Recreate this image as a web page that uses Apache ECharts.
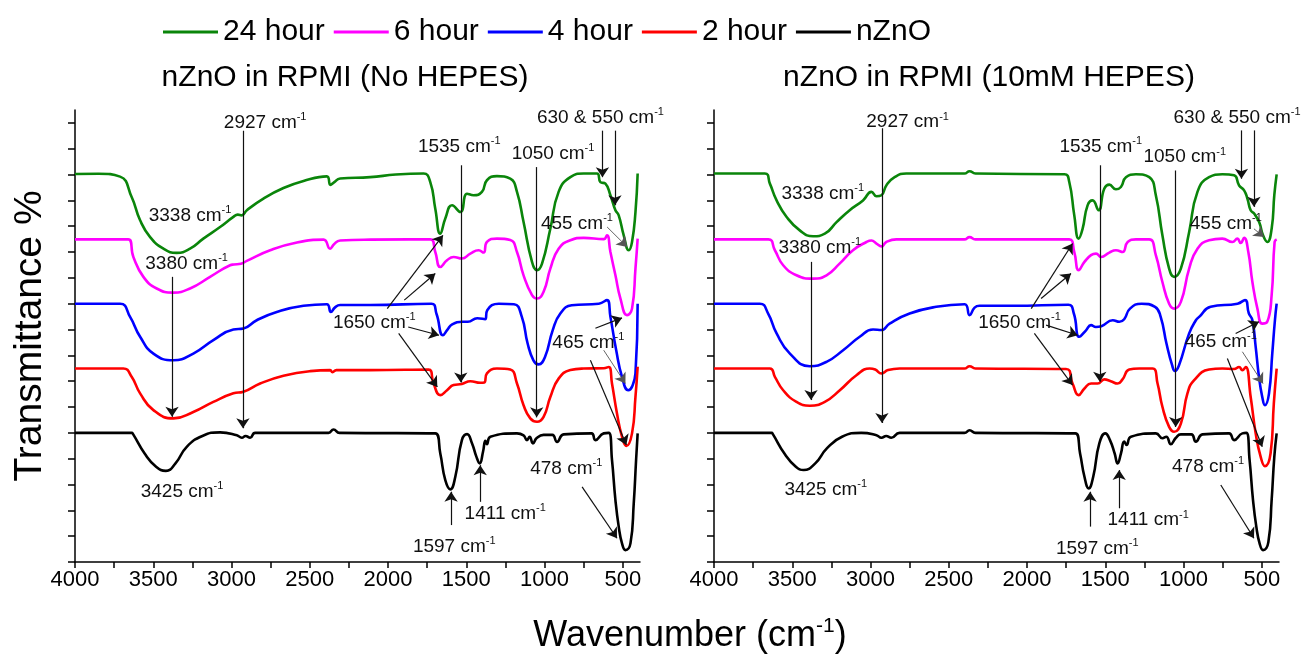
<!DOCTYPE html>
<html>
<head>
<meta charset="utf-8">
<script src="https://cdn.jsdelivr.net/npm/echarts@6/dist/echarts.min.js"></script>
<style>
  html, body { margin: 0; padding: 0; background: #fff; }
  #chart { width: 1306px; height: 658px; }
</style>
</head>
<body>
<div id="chart"></div>
<script>
// FTIR spectra, [wavenumber, offset transmittance]
var seriesNames = ['24 hour', '6 hour', '4 hour', '2 hour', 'nZnO'];
var seriesColors = ['#0a850a', '#ff00ff', '#0000ff', '#ff0000', '#000000'];

// ---- left panel: nZnO in RPMI (No HEPES)
var noHepes24 = [[4000,15.02],[3850,15.03],[3712,14.92],[3638,14.13],[3584,13.23],[3520,12.58],[3435,12.13],[3350,11.97],[3265,12.13],[3180,12.52],[3073,12.97],[2988,13.36],[2960,13.45],[2935,13.42],[2902,13.62],[2796,14.07],[2668,14.48],[2540,14.75],[2391,14.93],[2368,14.6],[2345,14.7],[2306,14.85],[2114,14.9],[1950,15.0],[1773,15.04],[1730,14.71],[1698,13.68],[1666,12.71],[1634,13.3],[1591,13.81],[1538,13.55],[1495,14.26],[1453,14.2],[1400,14.33],[1368,14.78],[1304,14.94],[1219,14.84],[1176,14.33],[1134,13.16],[1080,11.62],[1048,11.3],[1016,11.55],[963,12.9],[910,14.33],[835,14.9],[750,15.04],[665,15.04],[643,14.71],[611,14.65],[579,14.2],[547,13.62],[526,13.42],[494,12.65],[462,12.07],[441,12.39],[419,13.55],[405,15.04]];
var noHepes6 = [[4000,12.49],[3660,12.49],[3627,11.81],[3563,11.04],[3478,10.59],[3371,10.43],[3265,10.59],[3137,11.04],[3009,11.49],[2985,11.52],[2940,11.55],[2902,11.66],[2753,12.07],[2582,12.37],[2412,12.48],[2370,12.13],[2345,12.3],[2306,12.45],[2114,12.48],[1730,12.49],[1698,12.0],[1666,11.42],[1623,11.68],[1581,11.81],[1528,11.75],[1474,11.94],[1421,12.07],[1389,11.98],[1368,12.39],[1304,12.52],[1219,12.47],[1176,12.0],[1134,11.1],[1080,10.33],[1048,10.2],[1006,10.46],[963,11.36],[910,12.13],[835,12.46],[750,12.55],[622,12.5],[601,12.65],[579,12.0],[547,11.1],[515,10.2],[473,9.56],[441,9.81],[419,11.36],[405,12.52]];
var noHepes4 = [[4000,10.0],[3712,10.0],[3648,9.49],[3584,8.72],[3499,8.07],[3371,7.81],[3244,8.07],[3116,8.59],[2988,9.0],[2924,9.04],[2839,9.36],[2711,9.68],[2540,9.92],[2391,9.98],[2365,9.68],[2340,9.85],[2306,9.95],[2114,9.95],[1723,10.0],[1690,9.6],[1649,8.78],[1620,9.0],[1590,9.2],[1526,9.3],[1490,9.3],[1430,9.44],[1380,9.4],[1366,9.75],[1292,10.0],[1195,9.98],[1145,9.49],[1108,8.46],[1071,7.81],[1039,7.65],[997,7.94],[948,8.97],[899,9.62],[826,9.94],[653,10.0],[601,10.14],[579,9.49],[542,8.2],[505,7.17],[465,6.65],[440,6.8],[419,7.3],[405,10.0]];
var noHepes2 = [[4000,7.49],[3691,7.49],[3638,7.17],[3584,6.53],[3499,5.88],[3371,5.56],[3244,5.81],[3116,6.2],[2988,6.53],[2924,6.59],[2817,6.91],[2668,7.21],[2497,7.39],[2370,7.43],[2355,7.35],[2330,7.43],[2114,7.43],[1741,7.45],[1709,6.91],[1666,6.46],[1623,6.65],[1581,6.85],[1528,6.89],[1474,7.0],[1410,6.94],[1385,6.95],[1368,7.3],[1304,7.49],[1219,7.45],[1176,6.91],[1134,6.07],[1091,5.56],[1048,5.43],[1006,5.62],[963,6.39],[910,7.1],[835,7.43],[750,7.49],[622,7.5],[590,7.55],[569,6.91],[537,5.75],[505,4.85],[477,4.49],[441,4.98],[419,6.39],[405,7.56]];
var noHepesZnO = [[4000,5.0],[3638,5.0],[3629,4.95],[3555,4.2],[3482,3.69],[3419,3.53],[3358,3.82],[3286,4.46],[3186,4.88],[3073,5.02],[2966,4.91],[2934,4.81],[2910,4.88],[2881,4.81],[2849,5.0],[2380,5.0],[2348,5.13],[2310,5.0],[1698,4.98],[1666,4.2],[1634,3.17],[1602,2.81],[1570,3.3],[1528,4.72],[1495,4.95],[1463,4.59],[1435,4.07],[1414,3.82],[1393,4.27],[1378,4.69],[1368,4.56],[1346,4.85],[1176,4.98],[1134,4.9],[1112,4.72],[1095,4.85],[1074,4.59],[1050,4.8],[1006,4.92],[950,4.92],[920,4.65],[878,4.94],[700,4.98],[675,4.72],[622,4.98],[590,5.0],[569,3.95],[547,2.4],[526,1.37],[505,0.72],[483,0.46],[451,0.72],[430,2.27],[415,3.95],[405,4.98]];

// ---- right panel: nZnO in RPMI (10mM HEPES)
var hepes24 = [[4000,15.04],[3675,15.04],[3643,14.65],[3600,14.0],[3536,13.36],[3452,12.84],[3367,12.61],[3292,12.71],[3217,13.16],[3133,13.62],[3048,14.0],[2994,14.33],[2962,14.16],[2930,14.2],[2899,14.58],[2846,14.9],[2771,15.04],[2400,15.04],[2367,15.13],[2330,15.04],[1761,15.01],[1730,14.71],[1698,13.42],[1670,12.52],[1645,12.9],[1613,13.81],[1581,14.0],[1543,13.62],[1506,14.46],[1474,14.61],[1432,14.43],[1400,14.52],[1368,14.9],[1304,15.01],[1219,14.9],[1177,14.2],[1135,12.65],[1092,11.36],[1060,11.04],[1017,11.36],[964,12.78],[911,14.33],[837,14.9],[752,15.01],[677,14.97],[645,14.58],[613,14.39],[592,14.07],[571,13.62],[549,13.49],[517,13.16],[492,12.65],[465,12.39],[437,12.9],[420,14.2],[405,15.01]];
var hepes6 = [[4000,12.49],[3653,12.49],[3611,12.07],[3558,11.49],[3473,11.1],[3367,10.97],[3281,11.1],[3196,11.56],[3112,12.07],[3026,12.39],[2994,12.45],[2962,12.33],[2930,12.22],[2899,12.39],[2835,12.49],[2400,12.49],[2367,12.58],[2330,12.49],[1730,12.49],[1698,12.0],[1670,11.3],[1633,11.62],[1591,11.88],[1559,11.94],[1527,11.81],[1474,11.98],[1432,12.07],[1389,12.0],[1357,12.39],[1304,12.49],[1219,12.49],[1177,11.88],[1135,10.84],[1092,10.0],[1060,9.81],[1017,10.07],[964,11.36],[911,12.13],[837,12.46],[752,12.52],[688,12.39],[656,12.52],[635,12.35],[613,12.55],[586,12.0],[560,10.84],[528,9.81],[497,9.23],[465,9.3],[437,10.33],[418,12.39],[405,12.49]];
var hepes4 = [[4000,10.0],[3707,10.0],[3654,9.62],[3600,8.85],[3515,8.07],[3388,7.58],[3281,7.75],[3175,8.2],[3069,8.72],[2984,9.0],[2930,8.98],[2878,9.23],[2750,9.62],[2580,9.88],[2399,9.98],[2367,9.56],[2335,9.85],[2303,9.92],[2090,9.92],[1736,9.96],[1700,9.6],[1666,8.72],[1623,8.97],[1591,9.17],[1560,9.1],[1525,9.13],[1452,9.36],[1410,9.3],[1379,9.4],[1342,9.81],[1268,10.0],[1182,9.88],[1146,9.49],[1109,8.46],[1073,7.62],[1055,7.4],[1030,7.6],[964,8.85],[921,9.36],[900,9.49],[827,9.88],[655,10.0],[607,10.14],[583,9.63],[560,9.36],[539,8.33],[518,7.17],[497,6.39],[480,6.07],[454,6.52],[433,8.07],[416,9.36],[405,10.0]];
var hepes2 = [[4000,7.49],[3643,7.49],[3611,7.17],[3558,6.65],[3473,6.2],[3388,6.05],[3292,6.2],[3196,6.65],[3090,7.23],[3005,7.49],[2970,7.45],[2930,7.3],[2888,7.43],[2814,7.49],[2400,7.49],[2367,7.58],[2330,7.49],[1751,7.47],[1709,6.91],[1670,6.46],[1633,6.72],[1591,6.91],[1549,6.91],[1506,7.07],[1465,7.0],[1421,6.91],[1390,7.07],[1347,7.45],[1283,7.49],[1198,7.49],[1166,6.91],[1135,6.01],[1092,5.23],[1060,5.04],[1017,5.36],[975,6.53],[932,7.04],[837,7.45],[752,7.49],[677,7.47],[645,7.55],[624,7.43],[603,7.55],[571,6.39],[539,4.98],[507,4.07],[480,3.71],[444,4.2],[423,6.14],[405,7.49]];
var hepesZnO = [[4000,5.0],[3632,5.0],[3624,4.95],[3550,4.2],[3477,3.69],[3427,3.56],[3353,3.82],[3279,4.4],[3182,4.85],[3059,5.0],[2962,4.91],[2930,4.81],[2900,4.88],[2867,4.81],[2814,5.0],[2400,5.0],[2367,5.1],[2330,5.0],[1691,4.98],[1661,4.2],[1633,3.3],[1606,2.85],[1577,3.3],[1538,4.59],[1500,4.98],[1470,4.72],[1440,4.2],[1421,3.82],[1400,4.2],[1379,4.66],[1364,4.53],[1336,4.85],[1177,4.98],[1135,4.79],[1110,4.85],[1081,4.56],[1050,4.8],[1017,4.94],[950,4.94],[921,4.66],[879,4.94],[709,4.98],[677,4.72],[624,4.98],[599,5.0],[578,3.95],[556,2.4],[535,1.37],[514,0.72],[492,0.46],[458,0.77],[437,2.4],[420,4.07],[405,4.98]];

// peak labels [wavenumber, y, text]
var noHepesLabels = [[2785,17.0,'2927'],[3265,13.42,'3338'],[3287,11.55,'3380'],[3316,2.72,'3425'],[1545,16.07,'1535'],[946,15.81,'1050'],[643,17.2,'630 & 550'],[793,13.1,'455'],[2088,9.28,'1650'],[720,8.5,'465'],[861,3.62,'478'],[1577,0.59,'1597'],[1251,1.88,'1411']];
var hepesLabels = [[2763,17.03,'2927'],[3305,14.26,'3338'],[3324,12.17,'3380'],[3286,2.79,'3425'],[1529,16.07,'1535'],[992,15.68,'1050'],[658,17.2,'630 & 550'],[730,13.1,'455'],[2048,9.28,'1650'],[762,8.52,'465'],[843,3.69,'478'],[1551,0.53,'1597'],[1226,1.62,'1411']];

// arrows [from, to, thin]
var noHepesArrows = [
  [[2927,16.7],[2927,5.18]], [[3380,11.04],[3380,5.62]], [[1535,15.36],[1535,6.95]],
  [[1050,15.29],[1050,5.6]], [[630,16.7],[630,14.9]], [[550,16.7],[550,13.81]],
  [[600,12.97],[472,12.2],1],
  [[2005,9.81],[1649,12.65]], [[1896,10.14],[1698,11.17]], [[1871,9.1],[1674,8.78]], [[1932,8.85],[1685,6.78]],
  [[675,9.05],[505,9.45]], [[622,8.2],[483,6.91],1], [[707,7.81],[477,4.53]],
  [[760,2.91],[537,0.92]], [[1597,1.43],[1597,2.72]], [[1411,2.33],[1411,3.75]]
];
var hepesArrows = [
  [[2927,16.79],[2927,5.38]], [[3380,11.62],[3380,6.27]], [[1535,15.36],[1535,6.98]],
  [[1050,15.16],[1050,5.23]], [[630,16.71],[630,14.84]], [[550,16.71],[550,13.75]],
  [[550,12.9],[486,12.58],1],
  [[1973,9.81],[1709,12.33]], [[1910,10.2],[1719,11.17]], [[1878,9.17],[1676,8.78]], [[1953,8.85],[1709,6.85]],
  [[667,8.85],[518,9.3]], [[624,8.14],[492,6.91],1], [[720,7.88],[497,4.46]],
  [[762,2.98],[550,0.92]], [[1597,1.37],[1597,2.72]], [[1411,2.08],[1411,3.56]]
];

var xLabelValues = [4000, 3500, 3000, 2500, 2000, 1500, 1000, 500];
var xTickValues = [4000, 3750, 3500, 3250, 3000, 2750, 2500, 2250, 2000, 1750, 1500, 1250, 1000, 750, 500];
var yTickValues = [0,1,2,3,4,5,6,7,8,9,10,11,12,13,14,15,16,17];

var FONT = '"Liberation Sans", Arial, sans-serif';
var chart = echarts.init(document.getElementById('chart'));

function xAxisFor(i) {
  return {
    type: 'value', gridIndex: i, min: 390, max: 4000, inverse: true,
    axisLine: { show: true, lineStyle: { color: '#000', width: 1.5 } },
    axisTick: { show: true, length: 6, lineStyle: { color: '#000', width: 1.5 }, customValues: xTickValues },
    axisLabel: {
      show: true, customValues: xLabelValues, fontSize: 22, color: '#000', fontFamily: FONT, margin: 7,
      formatter: function (v) { return String(v); }
    },
    splitLine: { show: false }
  };
}
function yAxisFor(i) {
  return {
    type: 'value', gridIndex: i, min: 0, max: 17.5,
    axisLine: { show: true, onZero: false, lineStyle: { color: '#000', width: 1.5 } },
    axisTick: { show: true, length: 7, lineStyle: { color: '#000', width: 1.5 }, customValues: yTickValues },
    axisLabel: { show: false },
    splitLine: { show: false }
  };
}

var richLabel = {
  a: { fontSize: 19, color: '#111', fontFamily: FONT, lineHeight: 22, textBorderWidth: 0 },
  s: { fontSize: 11, color: '#111', fontFamily: FONT, verticalAlign: 'top', lineHeight: 11, textBorderWidth: 0 }
};

var series = [];
function addPanel(i, datasets, labels, arrows) {
  datasets.forEach(function (d, k) {
    series.push({
      name: seriesNames[k], type: 'line', xAxisIndex: i, yAxisIndex: i,
      data: d, showSymbol: false, smooth: 0.5,
      lineStyle: { color: seriesColors[k], width: 2.6 },
      itemStyle: { color: seriesColors[k] }, z: 3, silent: true
    });
  });
  series.push({
    type: 'lines', coordinateSystem: 'cartesian2d', xAxisIndex: i, yAxisIndex: i,
    symbol: ['none', 'arrow'], symbolSize: [7, 10], z: 4, silent: true,
    data: arrows.map(function (a) {
      return {
        coords: [a[0], a[1]],
        lineStyle: { color: a[2] ? '#555' : '#111', width: a[2] ? 0.9 : 1.2, opacity: 1 }
      };
    })
  });
  series.push({
    type: 'scatter', xAxisIndex: i, yAxisIndex: i, symbolSize: 0, z: 5, silent: true,
    data: labels.map(function (l) { return { name: l[2], value: [l[0], l[1]] }; }),
    label: {
      show: true, position: 'inside', align: 'center', verticalAlign: 'middle',
      color: '#111', textBorderWidth: 0, opacity: 1,
      formatter: function (p) { return '{a|' + p.name + ' cm}{s|-1}'; },
      rich: richLabel
    }
  });
}
addPanel(0, [noHepes24, noHepes6, noHepes4, noHepes2, noHepesZnO], noHepesLabels, noHepesArrows);
addPanel(1, [hepes24, hepes6, hepes4, hepes2, hepesZnO], hepesLabels, hepesArrows);

chart.setOption({
  backgroundColor: '#fff',
  animation: false,
  legend: {
    data: seriesNames, left: 158, top: 12, icon: 'rect', itemWidth: 55, itemHeight: 3, itemGap: 9,
    textStyle: { fontSize: 30, color: '#000', fontFamily: FONT }
  },
  grid: [
    { left: 75, right: 666, top: 110, bottom: 96 },
    { left: 714, right: 27, top: 110, bottom: 96 }
  ],
  xAxis: [xAxisFor(0), xAxisFor(1)],
  yAxis: [yAxisFor(0), yAxisFor(1)],
  graphic: [
    { type: 'text', x: 345, y: 78, style: { text: 'nZnO in RPMI (No HEPES)', fontSize: 30, fontFamily: FONT, fill: '#000', align: 'center', verticalAlign: 'middle' } },
    { type: 'text', x: 989, y: 78, style: { text: 'nZnO in RPMI (10mM HEPES)', fontSize: 30, fontFamily: FONT, fill: '#000', align: 'center', verticalAlign: 'middle' } },
    { type: 'text', x: 30, y: 336, rotation: Math.PI / 2, style: { text: 'Transmittance %', fontSize: 39, fontFamily: FONT, fill: '#000', align: 'center', verticalAlign: 'middle' } },
    { type: 'text', x: 690, y: 636, style: {
        text: '{a|Wavenumber (cm}{s|-1}{a|)}', align: 'center', verticalAlign: 'middle',
        rich: {
          a: { fontSize: 36, fontFamily: FONT, fill: '#000', color: '#000', lineHeight: 40 },
          s: { fontSize: 21, fontFamily: FONT, fill: '#000', color: '#000', verticalAlign: 'top', lineHeight: 21 }
        } } }
  ],
  series: series
});
</script>
</body>
</html>
